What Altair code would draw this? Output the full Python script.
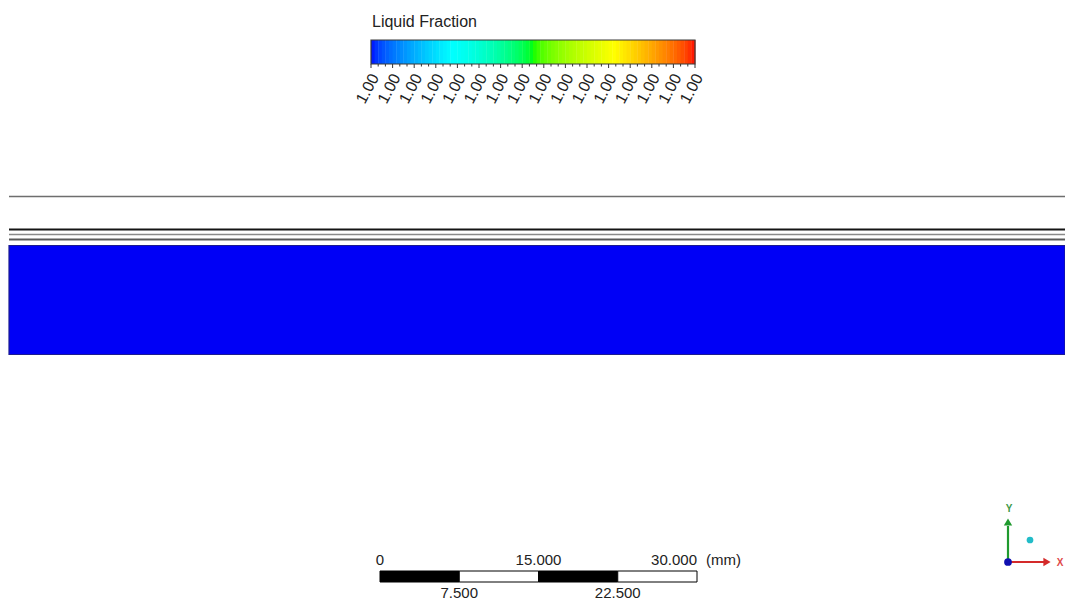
import altair as alt
import pandas as pd

W, H = 1065, 601
FONT = "Liberation Sans"

# ---------------- data ----------------
legend_title = "Liquid Fraction"
cbar_tick_labels = ["1.00"] * 16
cbar_colors = ["#0000ff", "#00ffff", "#00ff00", "#ffff00", "#ff0000"]
cbar_stops = [0.0, 0.25, 0.5, 0.75, 1.0]
n_bands = 90

scale_values_mm = [0, 7.5, 15, 22.5, 30]
scale_top_labels = ["0", "15.000", "30.000"]
scale_bottom_labels = ["7.500", "22.500"]
scale_unit = "(mm)"

# domain lines (y in px from top), x extents
line_y = [196.5, 229.5, 234.5, 239.5]
line_color = ["#6e6e6e", "#151515", "#8a8a8a", "#5a5a5a"]
line_width = [1.6, 1.8, 1.4, 1.8]

fluid_color = "#0000f6"

# ---------------- layout constants ----------------
cb_x0, cb_x1, cb_y0, cb_y1 = 371, 695, 40, 64
sb_x0, sb_x1, sb_y0, sb_y1 = 380, 697, 571, 582
dom_x0, dom_x1 = 9, W
fluid_y0, fluid_y1 = 245.5, 354.5

X = alt.X("x:Q", scale=alt.Scale(domain=[0, W], nice=False, zero=False), axis=None)
Y = alt.Y("y:Q", scale=alt.Scale(domain=[0, H], nice=False, zero=False, reverse=True), axis=None)
X2 = alt.X2("x2:Q")
Y2 = alt.Y2("y2:Q")

layers = []

# ---- colorbar bands ----
bw = (cb_x1 - cb_x0) / n_bands
bands = pd.DataFrame({
    "v": [(i + 0.5) / n_bands for i in range(n_bands)],
    "x": [cb_x0 + i * bw for i in range(n_bands)],
    "x2": [cb_x0 + (i + 1) * bw + 0.4 for i in range(n_bands)],
    "y": [cb_y0] * n_bands,
    "y2": [cb_y1] * n_bands,
})
layers.append(
    alt.Chart(bands).mark_rect(strokeWidth=0).encode(
        x=X, x2=X2, y=Y, y2=Y2,
        fill=alt.Fill("v:Q", scale=alt.Scale(domain=cbar_stops, range=cbar_colors), legend=None),
    )
)
layers.append(
    alt.Chart(pd.DataFrame({"x": [cb_x0], "x2": [cb_x1], "y": [cb_y0], "y2": [cb_y1]}))
    .mark_rect(fill=None, stroke="#3a3a3a", strokeWidth=1.2)
    .encode(x=X, x2=X2, y=Y, y2=Y2)
)

# ---- colorbar ticks ----
n_maj = len(cbar_tick_labels)
step = (cb_x1 - cb_x0) / (n_maj - 1)
ticks = []
for i in range(n_maj):
    ticks.append({"x": cb_x0 + i * step, "y": cb_y1, "y2": cb_y1 + 4})
    if i < n_maj - 1:
        for k in (1, 2):
            ticks.append({"x": cb_x0 + i * step + k * step / 3, "y": cb_y1, "y2": cb_y1 + 2.5})
layers.append(
    alt.Chart(pd.DataFrame(ticks)).mark_rule(color="#333333", strokeWidth=1)
    .encode(x=X, y=Y, y2=Y2)
)
labs = pd.DataFrame({
    "x": [cb_x0 + i * step + 4 for i in range(n_maj)],
    "y": [cb_y1 + 11] * n_maj,
    "t": cbar_tick_labels,
})
layers.append(
    alt.Chart(labs).mark_text(angle=298, align="right", baseline="middle",
                              font=FONT, fontSize=16, color="#222222")
    .encode(x=X, y=Y, text="t:N")
)
layers.append(
    alt.Chart(pd.DataFrame({"x": [372], "y": [27], "t": [legend_title]}))
    .mark_text(align="left", baseline="alphabetic", font=FONT, fontSize=16, color="#222222")
    .encode(x=X, y=Y, text="t:N")
)

# ---- domain lines ----
lines = pd.DataFrame({
    "x": [dom_x0] * len(line_y), "x2": [dom_x1] * len(line_y),
    "y": line_y, "c": line_color, "w": line_width,
})
layers.append(
    alt.Chart(lines).mark_rule().encode(
        x=X, x2=X2, y=Y,
        color=alt.Color("c:N", scale=None),
        strokeWidth=alt.StrokeWidth("w:Q", scale=None),
    )
)

# ---- fluid region ----
layers.append(
    alt.Chart(pd.DataFrame({"x": [dom_x0], "x2": [dom_x1], "y": [fluid_y0], "y2": [fluid_y1]}))
    .mark_rect(fill=fluid_color, stroke="#1c1c90", strokeWidth=1.2)
    .encode(x=X, x2=X2, y=Y, y2=Y2)
)

# ---- scale bar ----
ppmm = (sb_x1 - sb_x0) / scale_values_mm[-1]
sb_x = [sb_x0 + v * ppmm for v in scale_values_mm]
segs = pd.DataFrame({
    "x": sb_x[:-1], "x2": sb_x[1:],
    "y": [sb_y0] * 4, "y2": [sb_y1] * 4,
    "c": ["#000000", "#ffffff", "#000000", "#ffffff"],
})
layers.append(
    alt.Chart(segs).mark_rect(stroke="#000000", strokeWidth=1).encode(
        x=X, x2=X2, y=Y, y2=Y2, fill=alt.Fill("c:N", scale=None)
    )
)
top_x = [sb_x[0], sb_x[2], sb_x[4]]
SB_FS = 15
layers.append(
    alt.Chart(pd.DataFrame({"x": [top_x[0]], "y": [565], "t": [scale_top_labels[0]]}))
    .mark_text(align="center", baseline="alphabetic", font=FONT, fontSize=SB_FS, color="#222222")
    .encode(x=X, y=Y, text="t:N")
)
layers.append(
    alt.Chart(pd.DataFrame({"x": [top_x[1]], "y": [565], "t": [scale_top_labels[1]]}))
    .mark_text(align="center", baseline="alphabetic", font=FONT, fontSize=SB_FS, color="#222222")
    .encode(x=X, y=Y, text="t:N")
)
layers.append(
    alt.Chart(pd.DataFrame({"x": [top_x[2]], "y": [565], "t": [scale_top_labels[2]]}))
    .mark_text(align="right", baseline="alphabetic", font=FONT, fontSize=SB_FS, color="#222222")
    .encode(x=X, y=Y, text="t:N")
)
layers.append(
    alt.Chart(pd.DataFrame({"x": [sb_x1 + 9], "y": [565], "t": [scale_unit]}))
    .mark_text(align="left", baseline="alphabetic", font=FONT, fontSize=SB_FS, color="#222222")
    .encode(x=X, y=Y, text="t:N")
)
layers.append(
    alt.Chart(pd.DataFrame({"x": [sb_x[1], sb_x[3]], "y": [598, 598], "t": scale_bottom_labels}))
    .mark_text(align="center", baseline="alphabetic", font=FONT, fontSize=SB_FS, color="#222222")
    .encode(x=X, y=Y, text="t:N")
)

# ---- axis triad ----
ox, oy = 1008, 562
layers.append(
    alt.Chart(pd.DataFrame({"x": [ox], "y": [oy], "y2": [526]}))
    .mark_rule(color="#1f9a2e", strokeWidth=2.2).encode(x=X, y=Y, y2=Y2)
)
layers.append(
    alt.Chart(pd.DataFrame({"x": [ox], "x2": [1044], "y": [oy]}))
    .mark_rule(color="#d42a2a", strokeWidth=2.2).encode(x=X, x2=X2, y=Y)
)
layers.append(
    alt.Chart(pd.DataFrame({"x": [ox], "y": [522]}))
    .mark_point(shape="triangle-up", filled=True, size=70, color="#1f9a2e", opacity=1)
    .encode(x=X, y=Y)
)
layers.append(
    alt.Chart(pd.DataFrame({"x": [1047], "y": [oy]}))
    .mark_point(shape="triangle-right", filled=True, size=70, color="#d42a2a", opacity=1)
    .encode(x=X, y=Y)
)
layers.append(
    alt.Chart(pd.DataFrame({"x": [ox], "y": [oy]}))
    .mark_point(shape="circle", filled=True, size=60, color="#1010b0", opacity=1)
    .encode(x=X, y=Y)
)
layers.append(
    alt.Chart(pd.DataFrame({"x": [1030], "y": [540]}))
    .mark_point(shape="circle", filled=True, size=45, color="#22bcc8", opacity=1)
    .encode(x=X, y=Y)
)
layers.append(
    alt.Chart(pd.DataFrame({"x": [1009], "y": [509], "t": ["Y"]}))
    .mark_text(align="center", baseline="middle", font=FONT, fontSize=10, fontWeight="bold", color="#3c9a46")
    .encode(x=X, y=Y, text="t:N")
)
layers.append(
    alt.Chart(pd.DataFrame({"x": [1060], "y": [563], "t": ["X"]}))
    .mark_text(align="center", baseline="middle", font=FONT, fontSize=10, fontWeight="bold", color="#e04848")
    .encode(x=X, y=Y, text="t:N")
)

chart = alt.layer(*layers).properties(
    width=W, height=H, padding=0, autosize=alt.AutoSizeParams(type="none"), background="white"
).configure_view(stroke=None)

chart.save("out.html", embed_options={"renderer": "svg", "actions": False})
